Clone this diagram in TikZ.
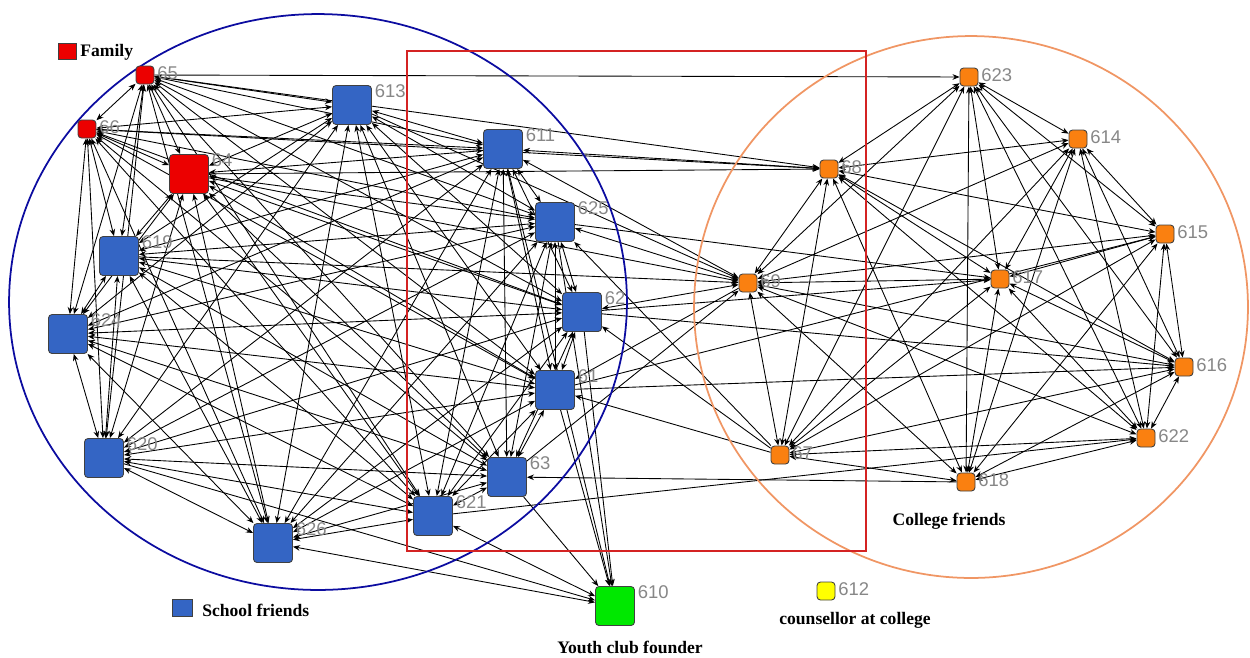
\documentclass[tikz,border=0pt]{standalone}
\usepackage{fontspec}
\setmainfont{Liberation Serif}
\newfontfamily\labfont{Liberation Sans}
\usetikzlibrary{arrows.meta}
\pgfdeclarelayer{edgelayer}
\pgfdeclarelayer{ringlayer}
\pgfsetlayers{edgelayer,ringlayer,main}

\definecolor{schoolblue}{RGB}{52,101,196}
\definecolor{famred}{RGB}{236,0,0}
\definecolor{collorange}{RGB}{250,128,16}
\definecolor{youthgreen}{RGB}{0,232,0}
\definecolor{counsyellow}{RGB}{255,255,0}
\definecolor{ringblue}{RGB}{12,12,160}
\definecolor{ringorange}{RGB}{240,150,100}
\definecolor{boxred}{RGB}{212,35,35}
\definecolor{labgrey}{RGB}{135,135,135}

\tikzset{
  actor/.style={draw=black!75, rounded corners=2pt, inner sep=0pt, line width=0.5pt},
  bigactor/.style={actor, minimum size=0.78cm},
  smallactor/.style={actor, minimum size=0.36cm},
  school/.style={bigactor, fill=schoolblue},
  family/.style={smallactor, fill=famred},
  bigfamily/.style={bigactor, fill=famred},
  college/.style={smallactor, fill=collorange},
  youth/.style={bigactor, fill=youthgreen},
  counsellor/.style={smallactor, fill=counsyellow},
  idtag/.style={font=\labfont\fontsize{10.5}{12}\selectfont, text=labgrey, inner sep=0pt},
  bigtag/.style={idtag, anchor=west, xshift=0.05cm, yshift=-0.12cm},
  smalltag/.style={idtag, anchor=west, xshift=0.05cm, yshift=0.04cm},
  legendtext/.style={font=\bfseries\fontsize{10}{12}\selectfont, inner sep=0pt},
  tie/.style={line width=0.5pt, {Stealth[length=4pt,width=3.2pt]}-{Stealth[length=4pt,width=3.2pt]}},
  arc/.style={line width=0.5pt, -{Stealth[length=4pt,width=3.2pt]}},
  ring/.style={line width=1pt},
}

\begin{document}
\begin{tikzpicture}[x=0.02cm,y=-0.02cm]
\useasboundingbox (0,0) rectangle (1250,657);

% family
\node[family,    label={[smalltag,name=t65]0:65}]   (n65)  at (145,75)  {};
\node[family,    label={[smalltag,name=t66]0:66}]   (n66)  at (87,129)  {};
\node[bigfamily, label={[bigtag,name=t64]45:64}]    (n64)  at (189,174) {};

% school friends
\node[school, label={[bigtag,name=t613]45:613}] (n613) at (352,105) {};
\node[school, label={[bigtag,name=t611]45:611}] (n611) at (503,149) {};
\node[school, label={[bigtag,name=t625]45:625}] (n625) at (555,222) {};
\node[school, label={[bigtag,name=t62]45:62}]   (n62)  at (582,312) {};
\node[school, label={[bigtag,name=t61]45:61}]   (n61)  at (555,390) {};
\node[school, label={[bigtag,name=t63]45:63}]   (n63)  at (507,477) {};
\node[school, label={[bigtag,name=t621]45:621}] (n621) at (433,516) {};
\node[school, label={[bigtag,name=t626]45:626}] (n626) at (273,543) {};
\node[school, label={[bigtag,name=t620]45:620}] (n620) at (104,458) {};
\node[school, label={[bigtag,name=t624]45:624}] (n624) at (68,334)  {};
\node[school, label={[bigtag,name=t619]45:619}] (n619) at (119,256) {};

% college friends
\node[college, label={[smalltag,name=t623]0:623}] (n623) at (969,77)   {};
\node[college, label={[smalltag,name=t614]0:614}] (n614) at (1078,139) {};
\node[college, label={[smalltag,name=t68]0:68}]   (n68)  at (829,169)  {};
\node[college, label={[smalltag,name=t615]0:615}] (n615) at (1165,234) {};
\node[college, label={[smalltag,name=t69]0:69}]   (n69)  at (748,283)  {};
\node[college, label={[smalltag,name=t617]0:617}] (n617) at (1000,279) {};
\node[college, label={[smalltag,name=t616]0:616}] (n616) at (1184,367) {};
\node[college, label={[smalltag,name=t622]0:622}] (n622) at (1146,438) {};
\node[college, label={[smalltag,name=t67]0:67}]   (n67)  at (780,455)  {};
\node[college, label={[smalltag,name=t618]0:618}] (n618) at (966,482)  {};

% youth club founder and counsellor
\node[youth,      label={[bigtag,name=t610]45:610}]   (n610) at (615,606) {};
\node[counsellor, label={[smalltag,name=t612]0:612}]  (n612) at (826,591) {};

% legend and group captions
\node[actor, fill=famred, rounded corners=0pt, minimum width=0.36cm, minimum height=0.32cm] (legfam) at (67,51) {};
\node[legendtext, anchor=west] (legfamtext) at (80,52) {Family};
\node[actor, fill=schoolblue, rounded corners=0pt, minimum width=0.4cm, minimum height=0.34cm] (legschool) at (182,608) {};
\node[legendtext, anchor=west] (legschooltext) at (202,610) {School friends};
\node[legendtext] (capyouth)   at (630,647) {Youth club founder};
\node[legendtext] (capcouns)   at (855,620) {counsellor at college};
\node[legendtext] (capcollege) at (949,521) {College friends};

% group outlines
\begin{pgfonlayer}{ringlayer}
  \draw[ring, ringblue]   (318,302) ellipse [x radius=6.18cm, y radius=5.76cm];
  \draw[ring, ringorange] (971,307) ellipse [x radius=5.54cm, y radius=5.42cm];
  \draw[ring, boxred]     (407,51) rectangle (866,551);
\end{pgfonlayer}

% ties
\begin{pgfonlayer}{edgelayer}
  % school friends and family
  \foreach \a/\b in {65/66,65/64,65/613,65/611,65/625,65/62,65/61,65/63,65/621,65/626,65/620,65/624,65/619,
    66/64,66/613,66/611,66/625,66/62,66/61,66/63,66/621,66/626,66/620,66/624,66/619,
    64/613,64/611,64/625,64/62,64/61,64/63,64/621,64/626,64/620,64/624,64/619,
    613/611,613/625,613/62,613/61,613/63,613/621,613/626,613/620,613/624,613/619,
    611/625,611/62,611/61,611/63,611/621,611/626,611/620,611/624,611/619,
    625/62,625/61,625/63,625/621,625/626,625/620,625/624,625/619,
    62/61,62/63,62/621,62/626,62/620,62/624,62/619,
    61/63,61/621,61/626,61/620,61/624,61/619,
    63/621,63/626,63/620,63/624,63/619,
    621/626,621/620,621/624,621/619,
    626/620,626/624,626/619,
    620/624,620/619,
    624/619}
    \draw[tie] (n\a) -- (n\b);
  % college friends
  \foreach \a/\b in {623/614,623/68,623/615,623/69,623/617,623/616,623/622,623/67,623/618,
    614/68,614/615,614/69,614/617,614/616,614/622,614/67,614/618,
    68/615,68/69,68/617,68/616,68/622,68/67,68/618,
    615/69,615/617,615/616,615/622,615/67,615/618,
    69/617,69/616,69/622,69/67,69/618,
    617/616,617/622,617/67,617/618,
    616/622,616/67,616/618,
    622/67,622/618,
    67/618}
    \draw[tie] (n\a) -- (n\b);
  % ties across the groups
  \foreach \a/\b in {65/623,65/68,66/68,64/68,613/69,64/69,619/69,63/69,69/61,
    67/61,67/62,67/625,618/63,621/622,61/616,62/616,62/617,61/615,625/617,
    63/610,61/610,62/610,625/610,611/610,620/610}
    \draw[arc] (n\a) -- (n\b);
  \foreach \a/\b in {611/68,625/69,62/69,611/69,626/610,621/610}
    \draw[tie] (n\a) -- (n\b);
\end{pgfonlayer}
\end{tikzpicture}
\end{document}
